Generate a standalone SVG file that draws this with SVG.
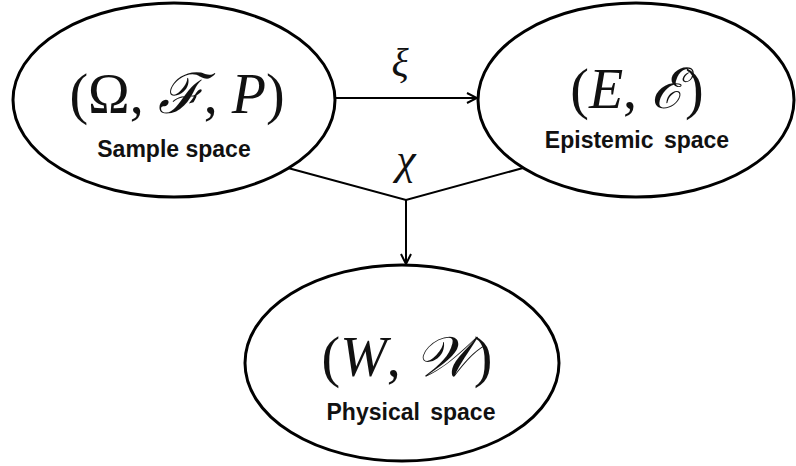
<svg xmlns="http://www.w3.org/2000/svg" width="796" height="466" viewBox="0 0 796 466">
<style>
.node ellipse{fill:#fff;stroke:#000;stroke-width:3}
.math{font-family:"Liberation Serif","DejaVu Serif",serif;font-size:56px;fill:#111;text-anchor:middle}
.it{font-style:italic}
.lbl{font-family:"Liberation Sans",Arial,sans-serif;font-weight:bold;font-size:23px;fill:#111;text-anchor:middle}
.edge{fill:none;stroke:#000;stroke-width:2}
.el{font-family:"Liberation Serif","DejaVu Serif",serif;font-style:italic;fill:#111;text-anchor:middle}
</style>
<defs>
<marker id="arr" viewBox="0 0 12 12" refX="11" refY="6" markerWidth="12" markerHeight="12" markerUnits="userSpaceOnUse" orient="auto">
<path d="M1,1 L11,6 L1,11" fill="none" stroke="#000" stroke-width="2"/>
</marker>
</defs>
<rect width="796" height="466" fill="#fff"/>
<g id="connectors">
<path class="edge" d="M335,98 L477,98" marker-end="url(#arr)"/>
<text class="el" x="400" y="76" font-size="40">ξ</text>
<path class="edge" d="M288,168 L406,200 L523,168"/>
<path class="edge" d="M406,200 L406,264" marker-end="url(#arr)"/>
<text class="el" x="406" y="174" font-size="44">χ</text>
</g>
<g id="sample" class="node">
<ellipse cx="174" cy="100" rx="161" ry="97"/>
<text class="math" x="177" y="113">(Ω, <tspan class="it">ℱ</tspan>, <tspan class="it">P</tspan>)</text>
<text class="lbl" x="174" y="157">Sample space</text>
</g>
<g id="epistemic" class="node">
<ellipse cx="636" cy="100" rx="158" ry="97"/>
<text class="math" x="637" y="108">(<tspan class="it">E</tspan>, <tspan class="it">ℰ</tspan>)</text>
<text class="lbl" x="637" y="148" word-spacing="4">Epistemic space</text>
</g>
<g id="physical" class="node">
<ellipse cx="402" cy="363" rx="157" ry="98"/>
<text class="math" x="407" y="376">(<tspan class="it">W</tspan>, <tspan class="it">𝒲</tspan>)</text>
<text class="lbl" x="411" y="420" word-spacing="4">Physical space</text>
</g>
</svg>
